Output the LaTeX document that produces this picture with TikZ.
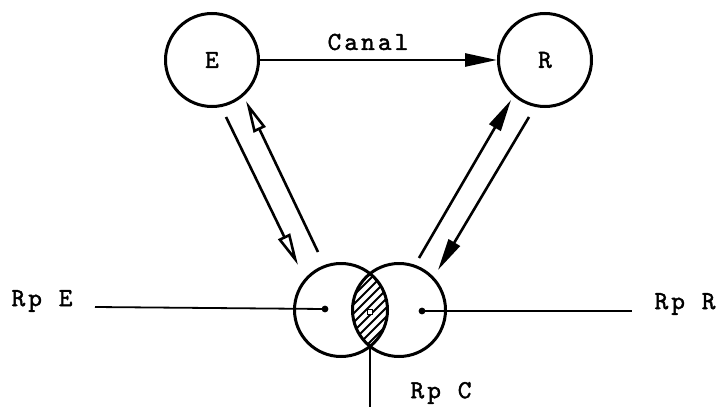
\documentclass[tikz,border=0pt]{standalone}
\usepackage{fontspec}
\setmonofont{lmmono10-regular.otf}[LetterSpace=12,FakeBold=1.6]
\usetikzlibrary{arrows.meta}
\begin{document}
\begin{tikzpicture}[x=1pt,y=-1pt,
  circ/.style={circle,draw,line width=3pt,minimum size=93pt,inner sep=0pt},
  lbl/.style={font=\fontsize{26}{29}\selectfont\ttfamily,inner sep=0pt},
  arr/.style={line width=2.6pt,-{Triangle[length=32pt,width=13pt]}},
  arro/.style={line width=2.6pt,-{Triangle[open,length=32pt,width=13pt,fill=white]}},
  rline/.style={line width=1.8pt}]
\useasboundingbox (0,0) rectangle (722,409);
% hatching of the common part
\begin{scope}
  \clip (341,310) circle (47);
  \clip (399,310) circle (46);
  \foreach \d in {-96,-87,...,96}
    \draw[line width=1.8pt] ({330+\d},352) -- ++(84,-84);
\end{scope}
\node[circ,lbl] (E) at (212,60) {E};
\node[circ,lbl] (R) at (545,60) {R};
\node[circ] (L) at (341,310) {};
\node[circ] (Rc) at (399,310) {};
\draw[line width=0.9pt,fill=white] (367.5,309.5) rectangle (372.5,314.5);
% channel
\draw[arr] (E.east) -- (R.west);
\node[lbl] (canal) at (368,42) {Canal};
% arrows between E, R and the repertoires
\coordinate (a1s) at (226,117); \coordinate (a1e) at (298,265);
\coordinate (a2s) at (318,252); \coordinate (a2e) at (246,101);
\coordinate (a3s) at (419,258); \coordinate (a3e) at (511,100);
\coordinate (a4s) at (529,117); \coordinate (a4e) at (438,270);
\draw[arro] (a1s) -- (a1e);
\draw[arro] (a2s) -- (a2e);
\draw[arr] (a3s) -- (a3e);
\draw[arr] (a4s) -- (a4e);
% repertoires
\fill (325,309) circle (3.4);
\fill (422,311) circle (3.4);
\coordinate (dL) at (325,309);
\coordinate (dR) at (422,311);
\coordinate (lensB) at (370,347);
\node[lbl] (RpE) at (42,301) {Rp E};
\node[lbl] (RpR) at (685,304) {Rp R};
\node[lbl] (RpC) at (441,393) {Rp C};
\coordinate (eE) at (95,307);
\coordinate (eR) at (632,311);
\coordinate (eC) at (370,407);
\draw[rline] (eE) -- (dL);
\draw[rline] (dR) -- (eR);
\draw[rline] (lensB) -- (eC);
\end{tikzpicture}
\end{document}
